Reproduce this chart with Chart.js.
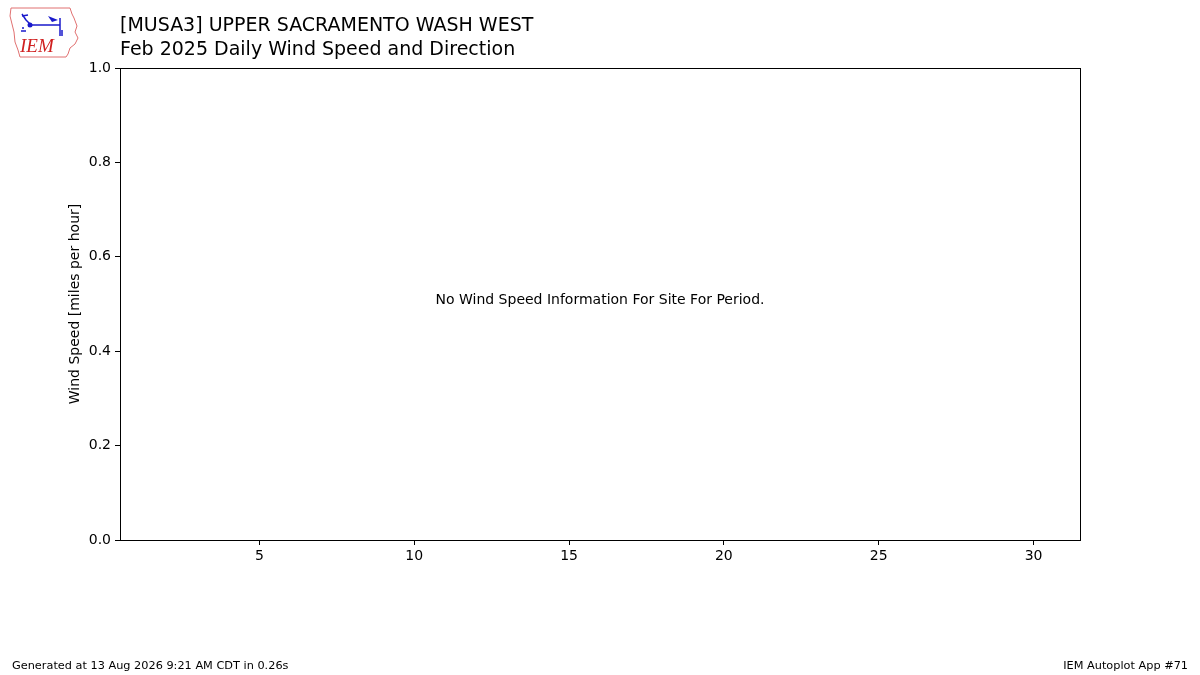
<!DOCTYPE html>
<html>
<head>
<meta charset="utf-8">
<script src="https://cdn.jsdelivr.net/npm/chart.js@4"></script>
<style>
  html,body{margin:0;padding:0;background:#fff;}
  #wrap{position:relative;width:1200px;height:675px;}
  #logo{position:absolute;left:8px;top:6px;}
</style>
</head>
<body>
<div id="wrap">
  <canvas id="chart" width="1200" height="675"></canvas>
  <svg id="logo" width="72" height="52" viewBox="0 0 72 52">
    <path d="M3 2 L62 2 L64 8 L66 12 L69 20 L67 26 L70 32 L67 38 L62 42 L60 48 L58 51 L12 51 L10 44 L7 36 L6 26 L4 18 L2 10 Z" fill="none" stroke="#e07070" stroke-width="1"/>
    <path d="M14 8 L18 14 M14 10 L20 9 M18 14 L22 18" stroke="#1a1acc" stroke-width="1.5" fill="none"/>
    <circle cx="22" cy="19" r="2.5" fill="#1a1acc"/>
    <path d="M22 19 L52 19 M52 12 L52 30 M54 24 L54 30" stroke="#1a1acc" stroke-width="1.5" fill="none"/>
    <path d="M40 10 L50 14 L44 16 Z" fill="#1a1acc"/>
    <path d="M14 22 L16 22 M13 25 L18 25" stroke="#1a1acc" stroke-width="1.5"/>
    <text x="12" y="46" font-family="Liberation Serif" font-style="italic" font-size="19" fill="#d02020">IEM</text>
  </svg>
</div>
<script>
// Feb 2025 daily wind -- the site reported nothing for the period
const days = [];
const windSpeed = [];
const xTicks = [5, 10, 15, 20, 25, 30];
const yTicks = [0, 0.2, 0.4, 0.6, 0.8, 1.0];

const titleLine1 = "[MUSA3] UPPER SACRAMENTO WASH WEST";
const titleLine2 = "Feb 2025 Daily Wind Speed and Direction";
const noDataMsg = "No Wind Speed Information For Site For Period.";
const footLeft = "Generated at 13 Aug 2026 9:21 AM CDT in 0.26s";
const footRight = "IEM Autoplot App #71";

const FONT = "DejaVu Sans";

const decor = {
  id: "decor",
  beforeDraw(chart){
    const c = chart.ctx;
    c.save();
    c.fillStyle = "#fff";
    c.fillRect(0, 0, chart.width, chart.height);
    c.restore();
  },
  afterDraw(chart){
    const c = chart.ctx, a = chart.chartArea;
    c.save();
    c.strokeStyle = "#000";
    c.lineWidth = 1;
    c.strokeRect(Math.round(a.left) + 0.5, Math.round(a.top) + 0.5,
      Math.round(a.right - a.left), Math.round(a.bottom - a.top));

    c.fillStyle = "#000";
    c.textAlign = "left";
    c.textBaseline = "alphabetic";
    c.font = "19px '" + FONT + "'";
    c.fillText(titleLine1, a.left, 31);
    c.fillText(titleLine2, a.left, 55);

    if (windSpeed.length == 0) {
      c.font = "14px '" + FONT + "'";
      c.textAlign = "center";
      c.textBaseline = "middle";
      c.fillText(noDataMsg, (a.left + a.right) / 2, (a.top + a.bottom) / 2 - 4);
    }

    c.font = "11.3px '" + FONT + "'";
    c.textBaseline = "alphabetic";
    c.textAlign = "left";
    c.fillText(footLeft, 12, 669);
    c.textAlign = "right";
    c.fillText(footRight, 1188, 669);
    c.restore();
  }
};

new Chart(document.getElementById("chart"), {
  type: "scatter",
  data: {
    datasets: [{
      label: "Wind Speed",
      data: days.map((d, i) => ({x: d, y: windSpeed[i]})),
      backgroundColor: "#1f77b4",
    }]
  },
  options: {
    responsive: false,
    animation: false,
    devicePixelRatio: 1,
    layout: {padding: {top: 68, right: 120, left: 67, bottom: 0}},
    plugins: {legend: {display: false}, tooltip: {enabled: false}},
    scales: {
      x: {
        type: "linear",
        min: 0.5,
        max: 31.5,
        afterBuildTicks: (s) => { s.ticks = xTicks.map(v => ({value: v})); },
        afterFit: (s) => { s.height = 135; },
        grid: {drawOnChartArea: false, drawTicks: true, tickLength: 5, color: "#000", tickColor: "#000"},
        border: {color: "#000", width: 1},
        ticks: {color: "#000", padding: 3, maxRotation: 0, font: {family: FONT, size: 14}},
      },
      y: {
        min: 0,
        max: 1,
        afterBuildTicks: (s) => { s.ticks = yTicks.map(v => ({value: v})); },
        afterFit: (s) => { s.width = 53; },
        grid: {drawOnChartArea: false, drawTicks: true, tickLength: 5, color: "#000", tickColor: "#000"},
        border: {color: "#000", width: 1},
        title: {display: true, text: "Wind Speed [miles per hour]", color: "#000", padding: 0, font: {family: FONT, size: 14}},
        ticks: {color: "#000", padding: 4, font: {family: FONT, size: 14}, callback: (v) => v.toFixed(1)},
      }
    }
  },
  plugins: [decor]
});
</script>
</body>
</html>
